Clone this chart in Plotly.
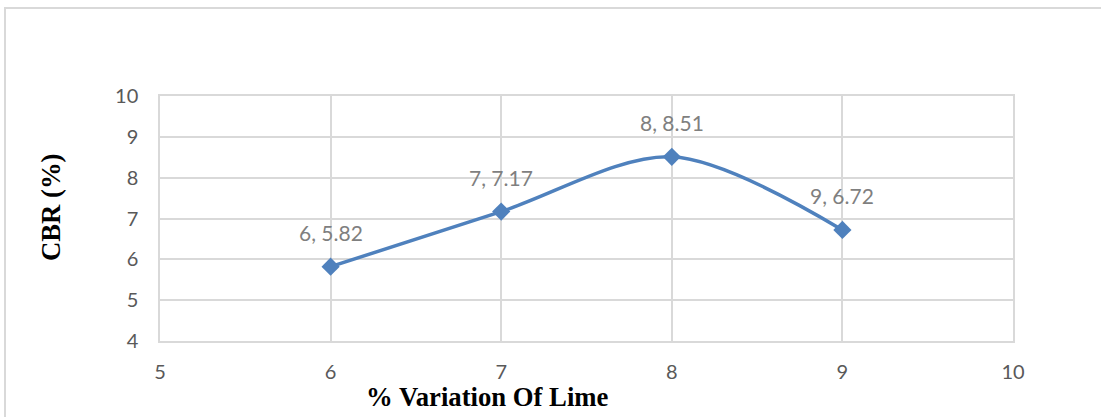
import plotly.graph_objects as go

lime = [6, 7, 8, 9]
cbr = [5.82, 7.17, 8.51, 6.72]
labels = [f"{x}, {y}" for x, y in zip(lime, cbr)]

L, R, T, B = 160, 88, 96, 76
W, H = 1101, 417
pw, ph = W - L - R, H - T - B

fig = go.Figure()
fig.add_trace(go.Scatter(
    x=lime, y=cbr, mode="lines+markers",
    line=dict(color="#4f81bd", width=3.5, shape="spline", smoothing=0.9),
    marker=dict(symbol="diamond", size=14, color="#4f81bd"),
    hoverinfo="skip",
))

for x, y, t in zip(lime, cbr, labels):
    fig.add_annotation(x=x, y=y, text=t, showarrow=False, yshift=34,
                       font=dict(family="Lato, Open Sans, sans-serif", size=21, color="#7f7f7f"))

fig.add_annotation(xref="paper", yref="paper", x=(487.5 - L) / pw, y=(H - B - 397) / ph,
                   xanchor="center", yanchor="middle",
                   text="<b>% Variation Of Lime</b>", showarrow=False,
                   font=dict(family="Liberation Serif", size=26.7, color="#000000"))
fig.add_annotation(xref="paper", yref="paper", x=(51 - L) / pw, y=(H - B - 208) / ph,
                   xanchor="center", yanchor="middle",
                   text="<b>CBR (%)</b>", showarrow=False, textangle=-90,
                   font=dict(family="Liberation Serif", size=26.7, color="#000000"))

fig.add_shape(type="rect", xref="paper", yref="paper",
              x0=(5 - L) / pw, x1=(W + 10 - L) / pw,
              y0=(H - B - (H + 10)) / ph, y1=(H - B - 8) / ph,
              line=dict(color="#d9d9d9", width=2), layer="below")

axis_common = dict(showgrid=True, gridcolor="#d9d9d9", gridwidth=1.5,
                   showline=True, linecolor="#d9d9d9", linewidth=1.5, mirror=True,
                   zeroline=False, ticks="",
                   tickfont=dict(family="Lato, Open Sans, sans-serif", size=20, color="#595959"))

fig.update_xaxes(range=[5, 10], dtick=1, ticklabelstandoff=12, **axis_common)
fig.update_yaxes(range=[4, 10], dtick=1, ticklabelstandoff=16, **axis_common)

fig.update_layout(width=W, height=H, margin=dict(l=L, r=R, t=T, b=B),
                  plot_bgcolor="white", paper_bgcolor="white", showlegend=False)

fig.write_html("out.html")
